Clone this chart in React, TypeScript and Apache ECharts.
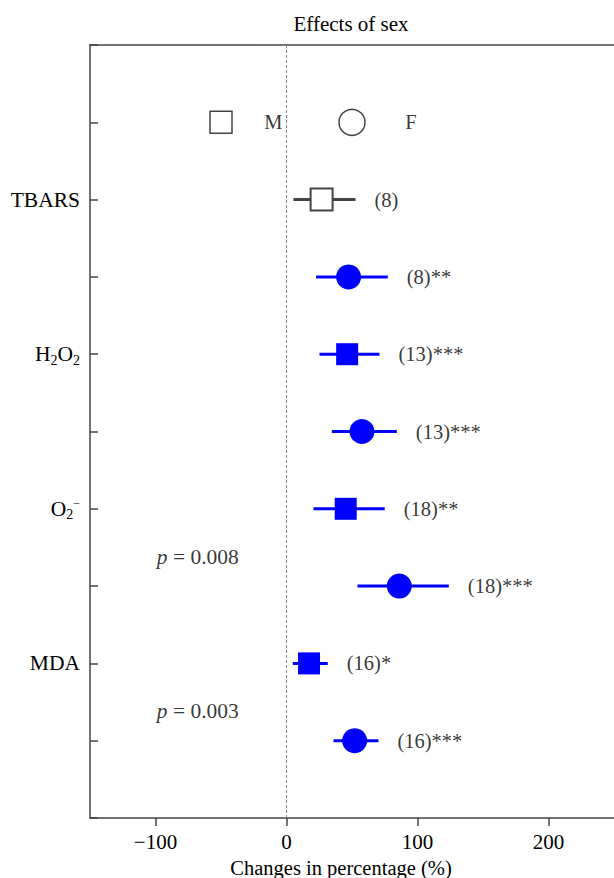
import React, { useEffect, useRef } from 'react';
import * as echarts from 'echarts';

const FONT = "'Liberation Serif', 'Times New Roman', serif";

// Rows (y positions, top = 0) and values
const rowPos = [2, 3, 4, 5, 6, 7, 8, 9];
const rowSex = ['M', 'F', 'M', 'F', 'M', 'F', 'M', 'F'];
const means = [26.8, 47.4, 46.3, 57.6, 45.2, 86.1, 17.2, 52.0];
const lower = [5.3, 22.6, 25.2, 34.6, 20.6, 54.2, 4.8, 35.9];
const upper = [52.7, 77.3, 71.0, 84.2, 75.0, 123.9, 31.5, 70.2];
const nLabels = ['(8)', '(8)**', '(13)***', '(13)***', '(18)**', '(18)***', '(16)*', '(16)***'];
const significant = [false, true, true, true, true, true, true, true];

// Y-axis category labels
const categoryPos = [2, 4, 6, 8];
const categoryLabels = ['TBARS', '{n|H}{s|2}{n|O}{s|2}', '{n|O}{s|2}{u|\u2212}', 'MDA'];

// X ticks
const xTicks = [-100, 0, 100, 200];

// Legend row
const legendRow = 1;
const legendSymbolX = [-50, 50];
const legendSymbolType = ['rect', 'circle'];
const legendTexts = ['M', 'F'];
const legendTextX = [-10, 95];

// p-value annotations
const pValues = ['0.008', '0.003'];
const pX = [-99, -99];
const pY = [6.62, 8.62];

const BLUE = '#0000ff';
const GRAY = '#444444';

export default function App() {
  const ref = useRef<HTMLDivElement>(null);
  useEffect(() => {
    if (!ref.current) return;
    const chart = echarts.init(ref.current, null, { renderer: 'svg' });

    const barData = rowPos.map((y, i) => [lower[i], y, upper[i]]);
    const mkPoint = (i: number) => ({
      value: [means[i], rowPos[i]],
      itemStyle: significant[i]
        ? { color: BLUE, borderColor: BLUE, borderWidth: 0, opacity: 1 }
        : { color: '#ffffff', borderColor: GRAY, borderWidth: 2, opacity: 1 },
    });
    const squares = rowPos.map((_, i) => i).filter((i) => rowSex[i] === 'M').map(mkPoint);
    const circles = rowPos.map((_, i) => i).filter((i) => rowSex[i] === 'F').map(mkPoint);

    const option: any = {
      animation: false,
      backgroundColor: '#ffffff',
      title: {
        text: 'Effects of sex',
        left: 346,
        top: 8,
        textAlign: 'center',
        textStyle: { fontFamily: FONT, fontSize: 21, fontWeight: 'normal', color: '#000' },
      },
      grid: { left: 90, top: 45, right: 0, bottom: 60, outerBoundsMode: 'none', containLabel: false },
      xAxis: [
        {
          type: 'value',
          min: -150,
          max: 250,
          position: 'bottom',
          splitLine: { show: false },
          axisLine: { show: true, onZero: false, lineStyle: { color: GRAY, width: 1.5 } },
          axisTick: { show: true, inside: false, length: 8, customValues: xTicks, lineStyle: { color: GRAY, width: 1.5 } },
          axisLabel: {
            show: true,
            customValues: xTicks,
            margin: 13,
            fontFamily: FONT,
            fontSize: 21,
            color: '#000',
            formatter: (v: number) => String(v).replace('-', '\u2212'),
          },
          name: 'Changes in percentage (%)',
          nameLocation: 'middle',
          nameGap: 39,
          nameTextStyle: { fontFamily: FONT, fontSize: 20.5, color: '#000', padding: [0, 22, 0, 0] },
        },
        {
          type: 'value',
          min: -150,
          max: 250,
          position: 'top',
          splitLine: { show: false },
          axisLine: { show: true, onZero: false, lineStyle: { color: GRAY, width: 1.5 } },
          axisTick: { show: false },
          axisLabel: { show: false },
        },
      ],
      yAxis: {
        type: 'value',
        inverse: true,
        min: 0,
        max: 10,
        interval: 1,
        splitLine: { show: false },
        axisLine: { show: true, onZero: false, lineStyle: { color: GRAY, width: 1.5 } },
        axisTick: { show: true, inside: true, length: 8, lineStyle: { color: GRAY, width: 1.5 } },
        axisLabel: {
          margin: 10,
          fontFamily: FONT,
          fontSize: 21.5,
          color: '#000',
          formatter: (v: number) => {
            const k = categoryPos.indexOf(v);
            return k >= 0 ? categoryLabels[k] : '';
          },
          rich: {
            n: { fontFamily: FONT, fontSize: 21.5, color: '#000' },
            s: { fontFamily: FONT, fontSize: 14, color: '#000', padding: [12, 0, 0, 0] },
            u: { fontFamily: FONT, fontSize: 12, color: '#000', padding: [0, 0, 12, 0] },
          },
        },
      },
      series: [
        {
          type: 'custom',
          name: 'errorbars',
          data: barData,
          encode: { x: [0, 2], y: 1 },
          z: 2,
          renderItem: (params: any, api: any) => {
            const y = api.value(1);
            const p1 = api.coord([api.value(0), y]);
            const p2 = api.coord([api.value(2), y]);
            const color = significant[params.dataIndex] ? BLUE : GRAY;
            return {
              type: 'line',
              shape: { x1: p1[0], y1: p1[1], x2: p2[0], y2: p2[1] },
              style: { stroke: color, lineWidth: 3 },
            };
          },
          markLine: {
            silent: true,
            symbol: ['none', 'none'],
            label: { show: false },
            lineStyle: { type: [3, 2], color: '#888', width: 1 },
            data: [{ xAxis: 0 }],
          },
        },
        {
          type: 'scatter',
          name: 'M',
          symbol: 'rect',
          symbolSize: 22,
          z: 3,
          data: squares,
        },
        {
          type: 'scatter',
          name: 'F',
          symbol: 'circle',
          symbolSize: 25,
          z: 3,
          data: circles,
        },
        {
          type: 'scatter',
          name: 'nLabels',
          symbolSize: 0,
          z: 4,
          data: rowPos.map((y, i) => [upper[i], y]),
          label: {
            show: true,
            position: 'right',
            distance: 19,
            fontFamily: FONT,
            fontSize: 20.5,
            color: '#000',
            formatter: (p: any) => nLabels[p.dataIndex],
          },
        },
        {
          type: 'scatter',
          name: 'legendSymbols',
          z: 3,
          data: legendSymbolX.map((x, i) => ({
            value: [x, legendRow],
            symbol: legendSymbolType[i],
            symbolSize: legendSymbolType[i] === 'rect' ? 22 : 26,
            itemStyle: { color: '#fff', borderColor: GRAY, borderWidth: 1.5, opacity: 1 },
          })),
        },
        {
          type: 'scatter',
          name: 'legendTexts',
          symbolSize: 0,
          z: 4,
          data: legendTextX.map((x) => [x, legendRow]),
          label: {
            show: true,
            position: 'inside',
            fontFamily: FONT,
            fontSize: 20.5,
            color: '#000',
            formatter: (p: any) => legendTexts[p.dataIndex],
          },
        },
        {
          type: 'scatter',
          name: 'pValues',
          symbolSize: 0,
          z: 4,
          data: pX.map((x, i) => [x, pY[i]]),
          label: {
            show: true,
            position: 'right',
            distance: 0,
            fontFamily: FONT,
            fontSize: 21.5,
            color: '#000',
            formatter: (p: any) => `{i|p} = ${pValues[p.dataIndex]}`,
            rich: {
              i: { fontFamily: FONT, fontSize: 21.5, fontStyle: 'italic', color: '#000' },
            },
          },
        },
      ],
    };
    chart.setOption(option);
    return () => chart.dispose();
  }, []);
  return (
    <div
      ref={ref}
      style={{ position: 'fixed', left: 0, top: 0, width: 614, height: 878, background: '#fff' }}
    />
  );
}
